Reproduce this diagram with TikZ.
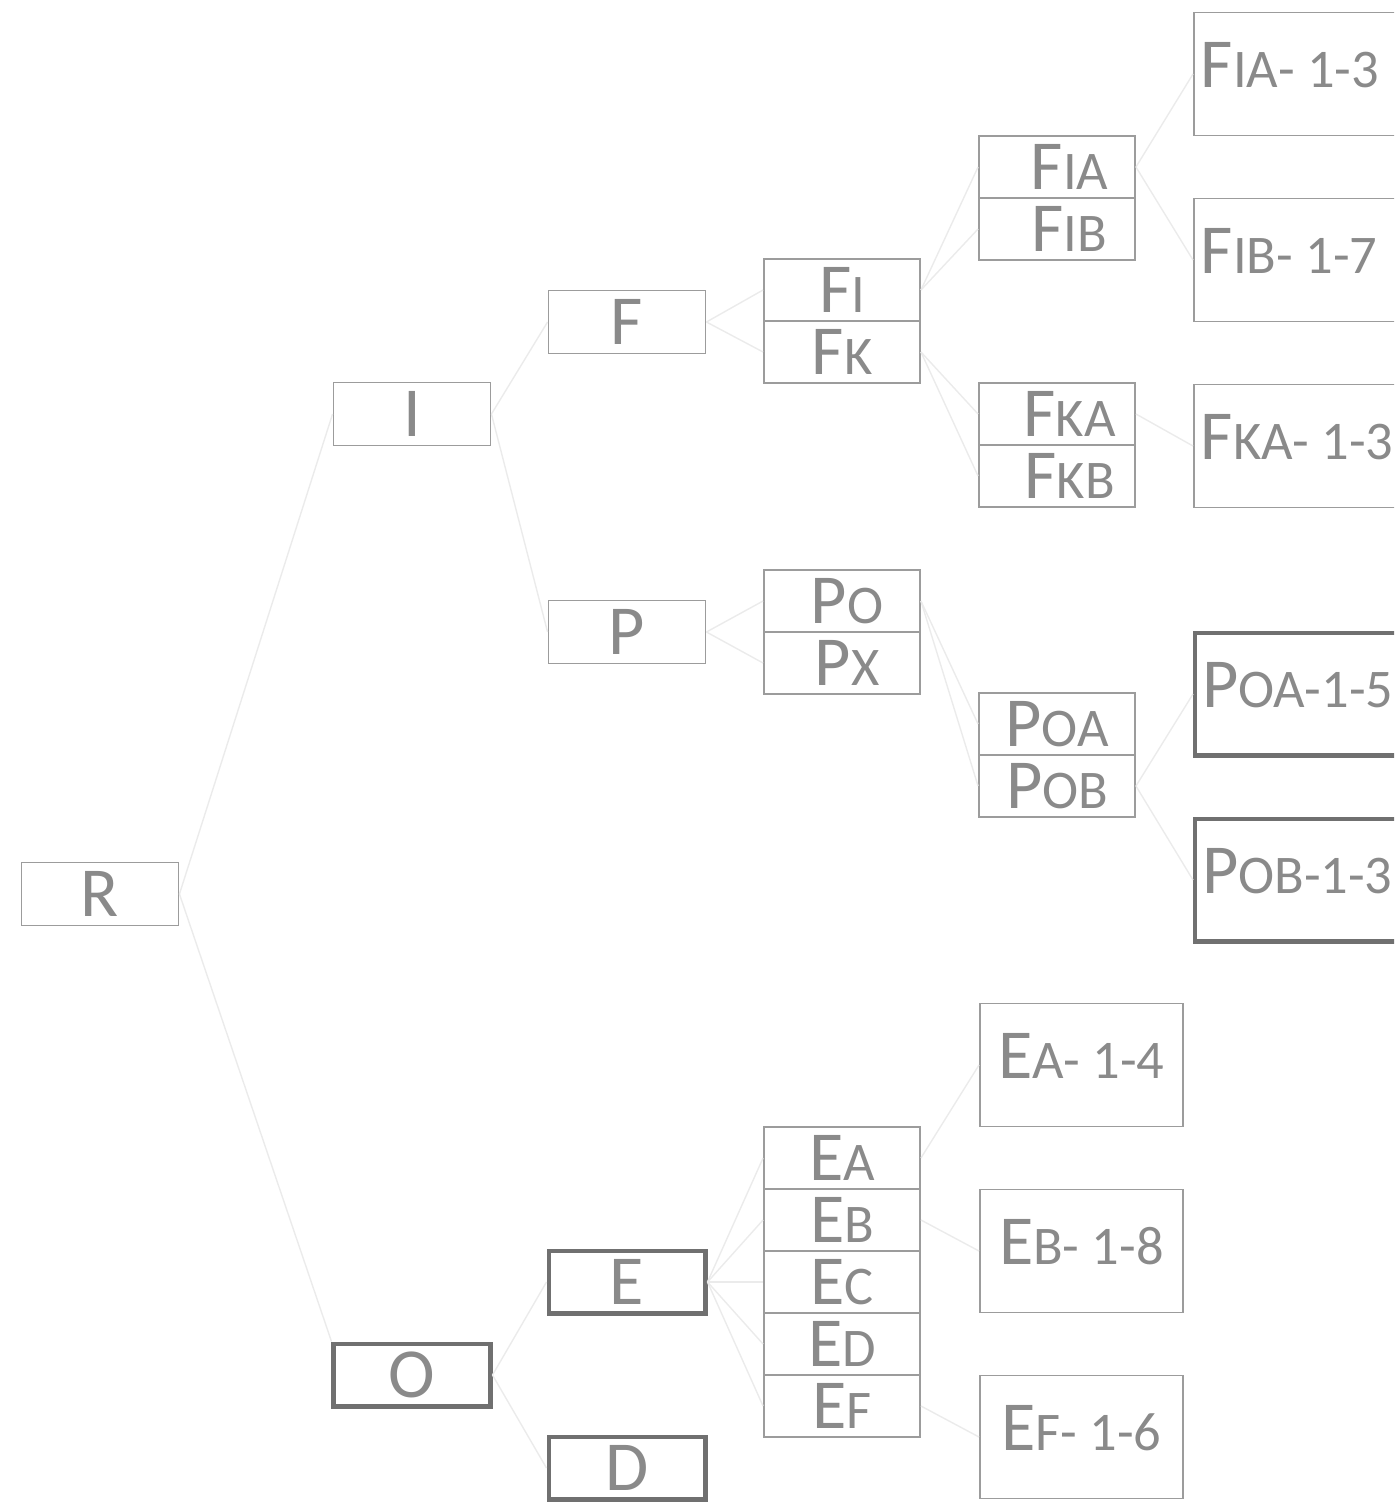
\documentclass[tikz,border=0pt]{standalone}
\usepackage{fontspec}
\setmainfont{Carlito}
\usepackage{tikz}
\usetikzlibrary{positioning}

\definecolor{txtgray}{HTML}{8A8A8A}
\definecolor{boxgray}{HTML}{9C9C9C}
\definecolor{boldgray}{HTML}{707070}
\definecolor{linkgray}{HTML}{EBEBEB}

\newcommand\bigfont{\fontsize{40}{40}\selectfont}
\newcommand\capsub[2]{#1{\fontsize{31}{31}\selectfont #2}}

\begin{document}
\begin{tikzpicture}[x=0.02cm, y=-0.02cm,
    box/.style={draw=boxgray, line width=1.1pt, text=txtgray, font=\bigfont,
        minimum width=3.14cm, minimum height=1.26cm, inner sep=0pt},
    boldbox/.style={box, draw=boldgray, line width=2.3pt},
    cell/.style={box, minimum width=3.12cm, minimum height=1.24cm},
    leaf/.style={box, anchor=west, text height=1.5cm, text depth=0.96cm},
    openleaf/.style={leaf, text width=4.4cm, align=flush left, inner xsep=0.14cm},
    link/.style={draw=linkgray, line width=0.8pt}]
    \clip (0,0) rectangle (1394,1508);

    % 1. Gốc và nhánh cấp 1, cấp 2
    \node[box] (R) at (100, 894) {R};
    \node[box] (I) at (412, 414) {I};
    \node[boldbox] (O) at (412, 1375) {O};
    \node[box] (F) at (627, 322) {F};
    \node[box] (P) at (627, 632) {P};
    \node[boldbox] (E) at (627, 1282) {E};
    \node[boldbox] (D) at (627, 1468) {D};

    % 2. Các ô xếp chồng
    \node[cell] (FI) at (842, 290) {\capsub{F}{I}};
    \node[cell] (FK) at (842, 352) {\capsub{F}{K}};
    \node[cell] (Po) at (842, 601) {\hspace{0.2cm}\capsub{P}{O}};
    \node[cell] (Px) at (842, 663) {\hspace{0.2cm}\capsub{P}{X}};
    \foreach \n [count=\i] in {A,B,C,D,F}
        \node[cell] (E\n) at (842, {1158+62*(\i-1)}) {\capsub{E}{\n}};

    \node[cell] (FIA) at (1057, 167) {\hspace{0.5cm}\capsub{F}{IA}};
    \node[cell] (FIB) at (1057, 229) {\hspace{0.5cm}\capsub{F}{IB}};
    \node[cell] (FKA) at (1057, 414) {\hspace{0.5cm}\capsub{F}{KA}};
    \node[cell] (FKB) at (1057, 476) {\hspace{0.5cm}\capsub{F}{KB}};
    \node[cell] (POA) at (1057, 724) {\capsub{P}{OA}\hspace{0.4cm}};
    \node[cell] (POB) at (1057, 786) {\capsub{P}{OB}\hspace{0.4cm}};

    % 3. Các ô cuối (tràn ra mép phải)
    \node[openleaf] (FIAend) at (1193, 74) {\capsub{F}{IA- 1-3}};
    \node[openleaf] (FIBend) at (1193, 260) {\capsub{F}{IB- 1-7}};
    \node[openleaf] (FKAend) at (1193, 446) {\capsub{F}{KA- 1-3}};
    \node[openleaf, draw=boldgray, line width=2.3pt] (POAend) at (1193, 694) {\capsub{P}{OA-1-5}};
    \node[openleaf, draw=boldgray, line width=2.3pt] (POBend) at (1193, 880) {\capsub{P}{OB-1-3}};
    \node[leaf, minimum width=4.06cm] (EAend) at (979, 1065) {\capsub{E}{A- 1-4}};
    \node[leaf, minimum width=4.06cm] (EBend) at (979, 1251) {\capsub{E}{B- 1-8}};
    \node[leaf, minimum width=4.06cm] (EFend) at (979, 1437) {\capsub{E}{F- 1-6}};

    % 4. Đường nối màu xám nhạt
    \draw[link] (R.east) -- (I.west);
    \draw[link] (R.east) -- (O.north west);
    \draw[link] (I.east) -- (F.west);
    \draw[link] (I.east) -- (P.west);
    \draw[link] (O.east) -- (E.west);
    \draw[link] (O.east) -- (D.west);
    \draw[link] (F.east) -- (FI.west);
    \draw[link] (F.east) -- (FK.west);
    \draw[link] (P.east) -- (Po.west);
    \draw[link] (P.east) -- (Px.west);
    \foreach \n in {A,B,C,D,F}
        \draw[link] (E.east) -- (E\n.west);
    \draw[link] (FI.east) -- (FIA.west);
    \draw[link] (FI.east) -- (FIB.west);
    \draw[link] (FK.east) -- (FKA.west);
    \draw[link] (FK.east) -- (FKB.west);
    \draw[link] (Po.east) -- (POA.west);
    \draw[link] (Po.east) -- (POB.west);
    \draw[link] (FIA.east) -- (FIAend.west);
    \draw[link] (FIA.east) -- (FIBend.west);
    \draw[link] (FKA.east) -- (FKAend.west);
    \draw[link] (POB.east) -- (POAend.west);
    \draw[link] (POB.east) -- (POBend.west);
    \draw[link] (EA.east) -- (EAend.west);
    \draw[link] (EB.east) -- (EBend.west);
    \draw[link] (EF.east) -- (EFend.west);

\end{tikzpicture}
\end{document}
